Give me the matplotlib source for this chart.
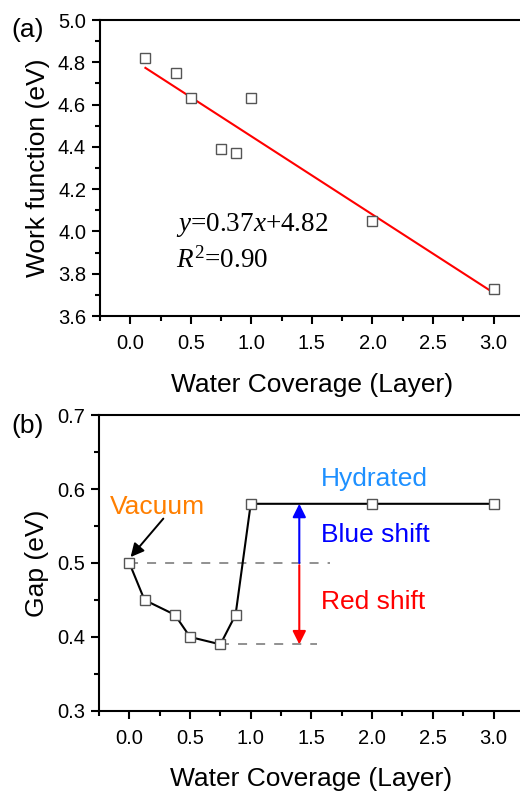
import numpy as np
import matplotlib
matplotlib.use("Agg")
import matplotlib.pyplot as plt
from matplotlib.ticker import MultipleLocator

plt.rcParams['font.family'] = ['Liberation Sans', 'DejaVu Sans']
plt.rcParams['mathtext.fontset'] = 'custom'
plt.rcParams['mathtext.rm'] = 'Liberation Serif'
plt.rcParams['mathtext.it'] = 'Liberation Serif:italic'

# (a) work function vs water coverage
cov_a = [0.125, 0.375, 0.5, 0.75, 0.875, 1.0, 2.0, 3.0]
work_fn = [4.82, 4.75, 4.63, 4.39, 4.37, 4.63, 4.05, 3.73]
fit_slope = -0.37
fit_intercept = 4.82

# (b) gap vs water coverage
cov_b = [0.0, 0.125, 0.375, 0.5, 0.75, 0.875, 1.0, 2.0, 3.0]
gap = [0.50, 0.45, 0.43, 0.40, 0.39, 0.43, 0.58, 0.58, 0.58]

xticks = [0.0, 0.5, 1.0, 1.5, 2.0, 2.5, 3.0]

fig = plt.figure(figsize=(5.2, 7.92), dpi=100)
ax1 = fig.add_axes([0.1923, 0.601, 0.815, 0.3737])
ax2 = fig.add_axes([0.1904, 0.1023, 0.817, 0.3737])


def style(ax):
    for s in ['left', 'bottom', 'top', 'right']:
        ax.spines[s].set_linewidth(1.5)
    ax.tick_params(which='major', direction='out', length=6, width=1.5,
                   labelsize=14.5, pad=4)
    ax.tick_params(axis='x', which='major', pad=7)
    ax.tick_params(which='minor', direction='out', length=3.5, width=1.5)
    ax.tick_params(top=False, right=False, which='both')
    ax.set_xlim(-0.25, 3.25)
    ax.set_xticks(xticks)
    ax.set_xticklabels([f"{t:.1f}" for t in xticks])
    ax.xaxis.set_minor_locator(MultipleLocator(0.25))
    ax.set_xlabel('Water Coverage (Layer)', fontsize=19, labelpad=14)


style(ax1)
xf = np.array([cov_a[0], cov_a[-1]])
ax1.plot(xf, fit_slope * xf + fit_intercept, color='red', lw=1.5, zorder=2)
ax1.plot(cov_a, work_fn, ls='none', marker='s', ms=6.5, mfc='white',
         mec='#555555', mew=1.0, zorder=3)
ax1.set_ylim(3.6, 5.0)
ax1.yaxis.set_major_locator(MultipleLocator(0.2))
ax1.yaxis.set_minor_locator(MultipleLocator(0.1))
ax1.yaxis.set_major_formatter(plt.FormatStrFormatter('%.1f'))
ax1.set_ylabel('Work function (eV)', fontsize=19, labelpad=6)
ax1.text(0.38, 4.03, r'$y$=0.37$x$+4.82', fontsize=19.5, va='center', ha='left',
         family='Liberation Serif')
ax1.text(0.38, 3.865, r'$R^2$=0.90', fontsize=19.5, va='center', ha='left',
         family='Liberation Serif')
fig.text(0.022, 0.962, '(a)', fontsize=19, va='center', ha='left')

style(ax2)
ax2.plot([0.0, 1.65], [0.5, 0.5], color='#888888', lw=1.3, ls=(0, (5, 5)), zorder=1)
ax2.plot([0.75, 1.55], [0.39, 0.39], color='#888888', lw=1.3, ls=(0, (5, 5)), zorder=1)
ax2.plot(cov_b, gap, color='black', lw=1.5, marker='s', ms=6.5, mfc='white',
         mec='#555555', mew=1.0, zorder=3)
ax2.annotate('', xy=(1.4, 0.58), xytext=(1.4, 0.5),
             arrowprops=dict(arrowstyle='-|>', color='blue', lw=1.5,
                             mutation_scale=20, shrinkA=0, shrinkB=0))
ax2.annotate('', xy=(1.4, 0.39), xytext=(1.4, 0.497),
             arrowprops=dict(arrowstyle='-|>', color='red', lw=1.5,
                             mutation_scale=20, shrinkA=0, shrinkB=0))
ax2.annotate('', xy=(0.01, 0.508), xytext=(0.28, 0.56),
             arrowprops=dict(arrowstyle='-|>', color='black', lw=1.4,
                             mutation_scale=20, shrinkA=0, shrinkB=0))
ax2.text(0.23, 0.575, 'Vacuum', color='#FF7F00', fontsize=19, ha='center', va='center')
ax2.text(1.58, 0.614, 'Hydrated', color='#1E90FF', fontsize=19, ha='left', va='center')
ax2.text(1.58, 0.538, 'Blue shift', color='blue', fontsize=19, ha='left', va='center')
ax2.text(1.58, 0.447, 'Red shift', color='red', fontsize=19, ha='left', va='center')
ax2.set_ylim(0.3, 0.7)
ax2.yaxis.set_major_locator(MultipleLocator(0.1))
ax2.yaxis.set_minor_locator(MultipleLocator(0.05))
ax2.yaxis.set_major_formatter(plt.FormatStrFormatter('%.1f'))
ax2.set_ylabel('Gap (eV)', fontsize=19, labelpad=6)
fig.text(0.022, 0.462, '(b)', fontsize=19, va='center', ha='left')

fig.savefig('out.png', dpi=100)
